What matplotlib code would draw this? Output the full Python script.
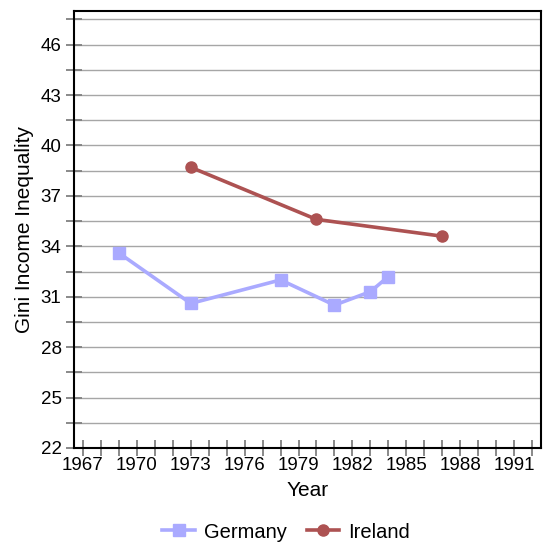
import matplotlib.pyplot as plt
from matplotlib.ticker import FixedLocator

plt.rcParams['font.family'] = ['Liberation Sans', 'DejaVu Sans']

# data
germany_years = [1969, 1973, 1978, 1981, 1983, 1984]
germany_gini = [33.6, 30.6, 32.0, 30.5, 31.3, 32.2]
ireland_years = [1973, 1980, 1987]
ireland_gini = [38.7, 35.6, 34.6]

x_ticks = list(range(1967, 1993, 3))
x_minor = [y for y in range(1967, 1993) if y not in x_ticks]
y_ticks = list(range(22, 47, 3))
y_minor = [v + 1.5 for v in range(22, 47, 3)]

fig = plt.figure(figsize=(5.45, 5.46), dpi=100)
ax = fig.add_axes([0.1358, 0.1795, 0.8569, 0.8004])

ax.plot(germany_years, germany_gini, color='#aaaaff', linewidth=2.6,
        marker='s', markersize=8.5, label='Germany', zorder=3)
ax.plot(ireland_years, ireland_gini, color='#ad5252', linewidth=2.6,
        marker='o', markersize=8, label='Ireland', zorder=3)

ax.set_xlim(1966.5, 1992.5)
ax.set_ylim(22, 48)
ax.set_xticks(x_ticks)
ax.set_yticks(y_ticks)
ax.xaxis.set_minor_locator(FixedLocator(x_minor))
ax.yaxis.set_minor_locator(FixedLocator(y_minor))

ax.grid(True, which='both', axis='y', color='#a6a6a6', linewidth=1)
ax.set_axisbelow(True)

for s in ax.spines.values():
    s.set_linewidth(1.5)
    s.set_color('black')

ax.tick_params(which='both', direction='inout', length=11, width=1.3,
               color='#808080', labelsize=13.5)
ax.tick_params(axis='x', which='major', pad=1)

ax.set_xlabel('Year', fontsize=15, labelpad=5)
ax.set_ylabel('Gini Income Inequality', fontsize=15, labelpad=5)

fig.legend(loc='lower center', bbox_to_anchor=(0.525, -0.025), ncol=2,
           frameon=False, fontsize=14.5, handlelength=1.6, columnspacing=1.0,
           handletextpad=0.45)

fig.savefig('out.png', dpi=100)
